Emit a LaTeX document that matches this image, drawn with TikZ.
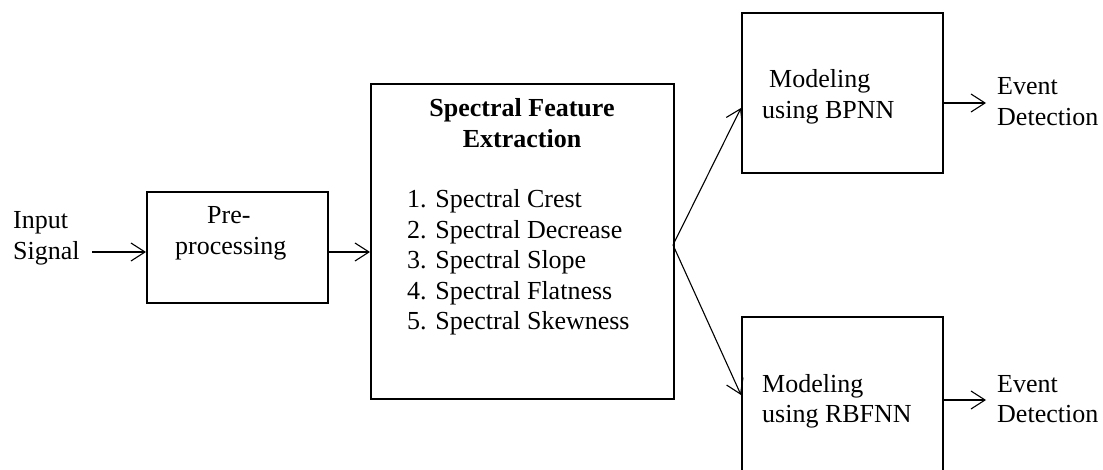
\documentclass[tikz,border=0pt]{standalone}
\usepackage{fontspec}
\setmainfont{Liberation Serif}
\usetikzlibrary{arrows.meta}
\begin{document}
\begin{tikzpicture}[x=1pt,y=-1pt,
  box/.style={draw,line width=1.8pt,rectangle,inner sep=0pt,anchor=north west},
  lbl/.style={anchor=base west,inner sep=0pt,font=\fontsize{26}{30.5}\selectfont},
  arr/.style={line width=1.1pt,-{Straight Barb[length=14pt,width=18pt,line width=1.1pt]}}]
\useasboundingbox (0,0) rectangle (1103,470);
\clip (0,0) rectangle (1103,470);
% blocks
\node[box,minimum width=181pt,minimum height=111pt] (pre) at (146,191) {};
\node[box,minimum width=303pt,minimum height=315pt] (spec) at (370,83) {};
\node[box,minimum width=201pt,minimum height=160pt] (bp) at (741,12) {};
\node[box,minimum width=201pt,minimum height=190pt] (rb) at (741,316) {};
% labels
\node[lbl] (in1) at (13,229) {Input};
\node[lbl] (in2) at (13,259.5) {Signal};
\node[lbl] (pr1) at (207,224) {Pre-};
\node[lbl] (pr2) at (175,254.5) {processing};
\node[lbl,anchor=base,font=\fontsize{26}{30.5}\selectfont\bfseries] (st1) at (522,117) {Spectral Feature};
\node[lbl,anchor=base,font=\fontsize{26}{30.5}\selectfont\bfseries] (st2) at (522,148) {Extraction};
\node[lbl] (f1) at (407,208) {1. Spectral Crest};
\node[lbl] (f2) at (407,238.5) {2. Spectral Decrease};
\node[lbl] (f3) at (407,269) {3. Spectral Slope};
\node[lbl] (f4) at (407,299.5) {4. Spectral Flatness};
\node[lbl] (f5) at (407,330) {5. Spectral Skewness};
\node[lbl] (b1) at (769,88) {Modeling};
\node[lbl] (b2) at (762,118.5) {using BPNN};
\node[lbl] (r1) at (762,392) {Modeling};
\node[lbl] (r2) at (762,422.5) {using RBFNN};
\node[lbl] (e1) at (997,95) {Event};
\node[lbl] (e2) at (997,125.5) {Detection};
\node[lbl] (e3) at (997,392) {Event};
\node[lbl] (e4) at (997,422.5) {Detection};
% connectors
\coordinate (src) at (92,252);
\coordinate (mid) at (0,252);
\coordinate (sp) at (673,245);
\coordinate (hb) at (0,108);
\coordinate (hr) at (0,395);
\coordinate (ob) at (986,103);
\coordinate (or) at (986,400);
\draw[arr] (src) -- (src -| pre.west);
\draw[arr] (mid -| pre.east) -- (mid -| spec.west);
\draw[arr] (sp) -- (hb -| bp.west);
\draw[arr] (sp) -- (hr -| rb.west);
\draw[arr] (ob -| bp.east) -- (ob);
\draw[arr] (or -| rb.east) -- (or);
\end{tikzpicture}
\end{document}
